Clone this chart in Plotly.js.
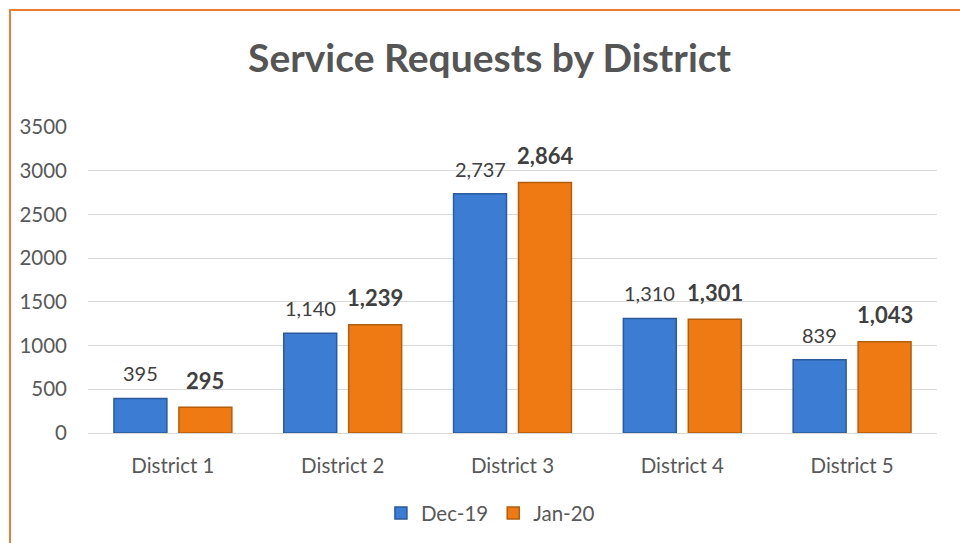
<!DOCTYPE html>
<html>
<head>
<meta charset="utf-8">
<script src="https://cdn.plot.ly/plotly-3.0.1.min.js"></script>
<style>
html,body{margin:0;padding:0;background:#fff;overflow:hidden;}
#wrap{position:relative;width:960px;height:543px;}
#chart{position:absolute;left:0;top:0;width:960px;height:543px;}
#frame{position:absolute;left:9px;top:9px;width:980px;height:560px;border:2px solid #ED7D31;pointer-events:none;box-sizing:border-box;}
</style>
</head>
<body>
<div id="wrap"><div id="chart"></div><div id="frame"></div></div>
<script>
const categories = ["District 1", "District 2", "District 3", "District 4", "District 5"];
const dec19 = [395, 1140, 2737, 1310, 839];
const jan20 = [295, 1239, 2864, 1301, 1043];
const seriesNames = ["Dec-19", "Jan-20"];
const yTicks = [0, 500, 1000, 1500, 2000, 2500, 3000, 3500];

const FONT = "Lato, 'Open Sans', sans-serif";
const bargap = 0.235, bargroupgap = 0.185;
const plotW = 960 - 88 - 23;
const slot = plotW / categories.length;
const barOffset = slot * (1 - bargap) / 4;

const fmt = v => v.toLocaleString('en-US');

const traces = [
  {type:'bar', name:seriesNames[0], x:categories, y:dec19,
   marker:{color:'#3D7CD3', line:{color:'#2A5A9C', width:1.5}}, hoverinfo:'x+y'},
  {type:'bar', name:seriesNames[1], x:categories, y:jan20,
   marker:{color:'#EF7A13', line:{color:'#B45E0C', width:1.5}}, hoverinfo:'x+y'}
];

const annotations = [];
categories.forEach((c, i) => {
  annotations.push({x:c, y:dec19[i], xref:'x', yref:'y', text:fmt(dec19[i]), showarrow:false,
    xshift:-barOffset, yshift:25, yanchor:'middle', font:{family:FONT, size:20, color:'#404040'}});
  annotations.push({x:c, y:jan20[i], xref:'x', yref:'y', text:'<b>'+fmt(jan20[i])+'</b>', showarrow:false,
    xshift:barOffset, yshift:27, yanchor:'middle', font:{family:FONT, size:22, color:'#404040'}});
});

const layout = {
  width:960, height:543,
  margin:{l:88, r:23, t:127, b:110, autoexpand:false},
  paper_bgcolor:'#ffffff', plot_bgcolor:'#ffffff',
  barmode:'group', bargap:bargap, bargroupgap:bargroupgap,
  title:{text:'<b>Service Requests by District</b>', x:0.51, xanchor:'center', y:0.893, yanchor:'middle',
    font:{family:FONT, size:39, color:'#555555'}},
  xaxis:{type:'category', automargin:false, showgrid:false, zeroline:false, showline:false, ticks:'',
    tickfont:{family:FONT, size:20.5, color:'#595959'}, ticklabelstandoff:18},
  yaxis:{range:[0, 3500], automargin:false, tickvals:yTicks, ticktext:yTicks.map(String), showgrid:true, gridcolor:'#D9D9D9', gridwidth:1,
    zeroline:true, zerolinecolor:'#D9D9D9', zerolinewidth:1, showline:false, ticks:'',
    tickfont:{family:FONT, size:20.5, color:'#595959'}, ticklabelstandoff:20},
  showlegend:true,
  legend:{orientation:'h', x:0.474, xanchor:'center', y:-0.262, yanchor:'middle',
    font:{family:FONT, size:20.5, color:'#595959'}, itemwidth:30, tracegroupgap:0},
  annotations:annotations
};

Plotly.newPlot('chart', traces, layout, {displayModeBar:false, staticPlot:true});
</script>
</body>
</html>
